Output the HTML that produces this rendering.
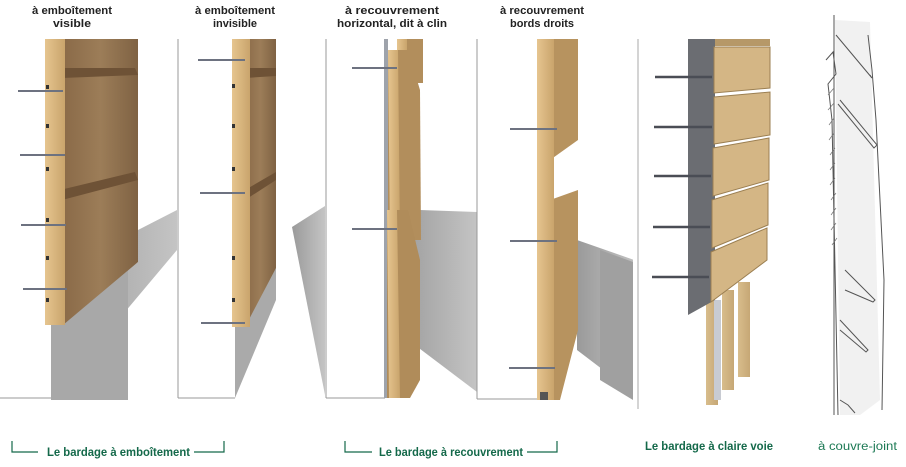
<!DOCTYPE html>
<html><head><meta charset="utf-8"><style>
html,body{margin:0;padding:0;background:#fff;}
svg{display:block;}
.t{font-family:"Liberation Sans",sans-serif;font-weight:bold;font-size:11px;fill:#222;text-anchor:middle;}
.g{font-family:"Liberation Sans",sans-serif;font-weight:bold;font-size:11.5px;fill:#14694a;}
</style></head><body>
<svg width="906" height="467" viewBox="0 0 906 467" xmlns="http://www.w3.org/2000/svg">
<defs>
<linearGradient id="sh" x1="0" x2="1"><stop offset="0" stop-color="#9a9a9a"/><stop offset="1" stop-color="#c4c4c4"/></linearGradient>
<linearGradient id="br" x1="0" x2="1"><stop offset="0" stop-color="#8a6a48"/><stop offset="0.5" stop-color="#9c7d58"/><stop offset="1" stop-color="#7f6243"/></linearGradient>
<linearGradient id="lw" x1="0" x2="1"><stop offset="0" stop-color="#e6c58f"/><stop offset="1" stop-color="#c9a46c"/></linearGradient>
<linearGradient id="pw" x1="0" x2="1"><stop offset="0" stop-color="#d8bd8c"/><stop offset="1" stop-color="#c6a775"/></linearGradient>
</defs>

<!-- top labels -->
<text class="t" x="72" y="14" textLength="80" lengthAdjust="spacingAndGlyphs">à emboîtement</text><text class="t" x="72" y="27" textLength="38" lengthAdjust="spacingAndGlyphs">visible</text>
<text class="t" x="235" y="14" textLength="80" lengthAdjust="spacingAndGlyphs">à emboîtement</text><text class="t" x="235" y="27" textLength="44" lengthAdjust="spacingAndGlyphs">invisible</text>
<text class="t" x="392" y="14" textLength="94" lengthAdjust="spacingAndGlyphs">à recouvrement</text><text class="t" x="392" y="27" textLength="110" lengthAdjust="spacingAndGlyphs">horizontal, dit à clin</text>
<text class="t" x="542" y="14" textLength="84" lengthAdjust="spacingAndGlyphs">à recouvrement</text><text class="t" x="542" y="27" textLength="64" lengthAdjust="spacingAndGlyphs">bords droits</text>

<!-- Panel 1 -->
<polygon points="51,325 138,262 138,230 177,210 177,250 51,400" fill="url(#sh)"/>
<polygon points="51,325 128,270 128,400 51,400" fill="#a8a8a8"/>
<rect x="0" y="39" width="51" height="360" fill="#fff"/>
<line x1="0" y1="398" x2="51" y2="398" stroke="#999"/>
<polygon points="63,39 138,39 138,262 63,325" fill="url(#br)"/>
<path d="M60,68 L135,68 L138,75 L62,78Z" fill="#6e5236"/>
<path d="M60,190 L135,172 L138,180 L62,200Z" fill="#6e5236"/>
<rect x="45" y="39" width="20" height="286" fill="url(#lw)"/>
<g fill="#333"><rect x="46" y="85" width="3" height="4"/><rect x="46" y="124" width="3" height="4"/><rect x="46" y="167" width="3" height="4"/><rect x="46" y="218" width="3" height="4"/><rect x="46" y="256" width="3" height="4"/><rect x="46" y="298" width="3" height="4"/></g>
<g stroke="#6d7280" stroke-width="2"><line x1="18" y1="91" x2="63" y2="91"/><line x1="20" y1="155" x2="65" y2="155"/><line x1="21" y1="225" x2="66" y2="225"/><line x1="23" y1="289" x2="67" y2="289"/></g>

<!-- Panel 2 -->
<polygon points="235,327 276,268 276,300 235,398" fill="#aaa"/>
<polygon points="292,227 325,206 325,395" fill="url(#sh)"/>
<rect x="178" y="39" width="57" height="359" fill="#fff"/>
<line x1="178" y1="39" x2="178" y2="398" stroke="#999"/><line x1="178" y1="398" x2="235" y2="398" stroke="#999"/>
<polygon points="245,39 276,39 276,268 245,327" fill="url(#br)"/>
<path d="M245,68 L276,68 L276,76 L245,78Z" fill="#6e5236"/>
<path d="M245,190 L276,172 L276,180 L245,200Z" fill="#6e5236"/>
<rect x="232" y="39" width="18" height="288" fill="url(#lw)"/>
<g fill="#333"><rect x="232" y="84" width="3" height="4"/><rect x="232" y="124" width="3" height="4"/><rect x="232" y="167" width="3" height="4"/><rect x="232" y="256" width="3" height="4"/><rect x="232" y="298" width="3" height="4"/></g>
<g stroke="#6d7280" stroke-width="2"><line x1="198" y1="60" x2="245" y2="60"/><line x1="200" y1="193" x2="245" y2="193"/><line x1="201" y1="323" x2="245" y2="323"/></g>

<!-- Panel 3 -->
<polygon points="420,210 477,212 477,392 395,330" fill="url(#sh)"/>
<rect x="326" y="39" width="59" height="359" fill="#fff"/>
<line x1="326" y1="39" x2="326" y2="398" stroke="#999"/><line x1="326" y1="398" x2="385" y2="398" stroke="#999"/>
<rect x="384" y="39" width="4" height="359" fill="#9ea3ab"/>
<rect x="397" y="39" width="26" height="44" fill="#b28e5c"/><rect x="397" y="39" width="10" height="44" fill="url(#lw)"/>
<polygon points="388,50 408,50 420,90 421,240 400,240 388,240" fill="#b28e5c"/>
<polygon points="388,50 398,50 400,240 390,240" fill="url(#lw)"/>
<polygon points="387,210 408,210 420,260 420,380 410,398 387,398" fill="#b08c5a"/>
<polygon points="387,210 397,210 400,398 389,398" fill="url(#lw)"/>
<g stroke="#6d7280" stroke-width="2"><line x1="352" y1="68" x2="397" y2="68"/><line x1="352" y1="229" x2="397" y2="229"/></g>

<!-- Panel 4 -->
<polygon points="577,240 640,262 640,398 577,350" fill="url(#sh)"/>
<rect x="477" y="39" width="60" height="360" fill="#fff"/>
<line x1="477" y1="39" x2="477" y2="399" stroke="#999"/><line x1="477" y1="399" x2="537" y2="399" stroke="#999"/>
<polygon points="537,39 578,39 578,140 550,160 550,200 578,190 578,330 560,400 537,400" fill="#b7935f"/>
<rect x="537" y="39" width="17" height="361" fill="url(#lw)"/>
<rect x="540" y="392" width="8" height="8" fill="#555"/>
<g stroke="#6d7280" stroke-width="2"><line x1="510" y1="129" x2="557" y2="129"/><line x1="510" y1="241" x2="557" y2="241"/><line x1="509" y1="368" x2="555" y2="368"/></g>

<!-- Panel 5 -->
<polygon points="600,250 633,262 633,400 600,380" fill="#a0a0a0"/>
<rect x="633" y="39" width="72" height="370" fill="#fff"/>
<line x1="638" y1="39" x2="638" y2="409" stroke="#aaa"/>
<g fill="url(#pw)"><rect x="706" y="300" width="12" height="105"/><rect x="722" y="290" width="12" height="100"/><rect x="738" y="282" width="12" height="95"/></g>
<rect x="714" y="300" width="7" height="100" fill="#c8cbd2"/>
<polygon points="688,39 715,39 715,300 688,315" fill="#6b6d72"/>
<g fill="#d4b685" stroke="#9b7f52" stroke-width="1">
<polygon points="714,47 770,47 770,88 714,93"/>
<polygon points="714,97 770,92 770,135 714,144"/>
<polygon points="713,148 769,138 769,180 713,196"/>
<polygon points="712,200 768,183 768,225 712,248"/>
<polygon points="711,252 767,228 767,260 711,302"/>
</g>
<rect x="715" y="39" width="55" height="7" fill="#b69868"/>
<g stroke="#4a4d55" stroke-width="2.5"><line x1="655" y1="77" x2="712" y2="77"/><line x1="654" y1="127" x2="712" y2="127"/><line x1="654" y1="176" x2="711" y2="176"/><line x1="653" y1="227" x2="710" y2="227"/><line x1="652" y1="277" x2="709" y2="277"/></g>

<!-- Panel 6 sketch -->
<polygon points="835,20 870,22 880,400 860,415 840,415" fill="#f1f1f1"/>
<g fill="none" stroke="#555" stroke-width="1">
<line x1="834" y1="15" x2="834" y2="415"/>
<polyline points="836,35 872,78 870,75"/>
<polyline points="826,60 833,52 836,74 828,84 832,120 838,415"/>
<polyline points="840,100 877,145 874,148 838,104"/>
<polyline points="868,35 872,70 876,120 880,200 884,280 882,410"/>
<polyline points="845,270 875,300 873,302 845,290"/>
<polyline points="840,320 868,350 866,352 840,330"/>
<polyline points="840,400 848,405 855,413"/>
</g>
<g stroke="#777" stroke-width="0.7">
<line x1="828" y1="95" x2="834" y2="88"/><line x1="828" y1="110" x2="834" y2="103"/><line x1="829" y1="125" x2="834" y2="118"/><line x1="829" y1="140" x2="834" y2="133"/><line x1="830" y1="155" x2="835" y2="148"/><line x1="830" y1="170" x2="835" y2="163"/><line x1="830" y1="185" x2="835" y2="178"/><line x1="831" y1="200" x2="836" y2="193"/><line x1="831" y1="215" x2="836" y2="208"/><line x1="831" y1="230" x2="836" y2="223"/><line x1="832" y1="245" x2="837" y2="238"/>
</g>

<!-- bottom labels -->
<g stroke="#14694a" stroke-width="1.2" fill="none">
<polyline points="12,441 12,452 38,452"/><polyline points="194,452 224,452 224,441"/>
<polyline points="345,441 345,452 372,452"/><polyline points="527,452 557,452 557,441"/>
</g>
<text class="g" x="47" y="456" textLength="143" lengthAdjust="spacingAndGlyphs">Le bardage à emboîtement</text>
<text class="g" x="379" y="456" textLength="144" lengthAdjust="spacingAndGlyphs">Le bardage à recouvrement</text>
<text class="g" x="645" y="450" textLength="128" lengthAdjust="spacingAndGlyphs">Le bardage à claire voie</text>
<text class="g" x="818" y="450" textLength="79" lengthAdjust="spacingAndGlyphs" style="font-weight:normal;fill:#1d7a55">à couvre-joint</text>
</svg>
</body></html>
